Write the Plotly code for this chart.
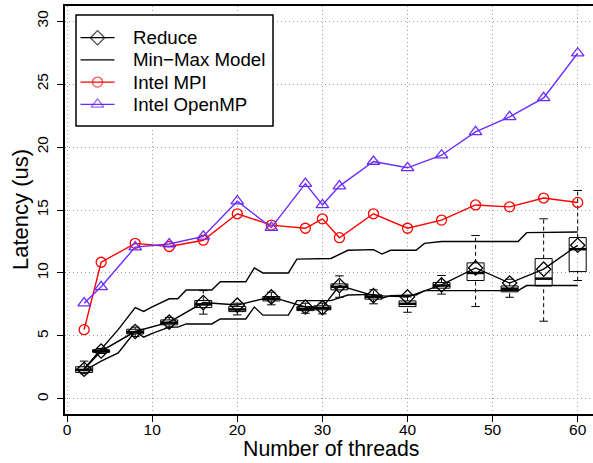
import plotly.graph_objects as go

# Thread counts at which the reductions were measured
threads = [2, 4, 8, 12, 16, 20, 24, 28, 30, 32, 36, 40, 44, 48, 52, 56, 60]

# Mean latency (us) of each implementation
reduce_mean = [2.35, 3.8, 5.35, 6.1, 7.65, 7.45, 8.1, 7.3, 7.25, 9.0, 8.2, 8.1, 9.05, 10.4, 9.2, 10.3, 12.2]
intel_mpi = [5.5, 10.85, 12.35, 12.1, 12.6, 14.7, 13.8, 13.55, 14.3, 12.8, 14.7, 13.55, 14.2, 15.4, 15.25, 15.95, 15.6]
intel_openmp = [7.6, 8.9, 12.05, 12.3, 12.9, 15.7, 13.6, 17.1, 15.4, 16.9, 18.85, 18.35, 19.35, 21.2, 22.4, 23.9, 27.45]

# Distribution of the Reduce measurements (boxplot statistics)
reduce_q1 = [2.1, 3.7, 5.16, 5.88, 7.25, 6.93, 7.78, 7.01, 7.07, 8.66, 7.92, 7.33, 8.79, 9.4, 8.5, 8.97, 10.11]
reduce_med = [2.3, 3.8, 5.3, 6.05, 7.5, 7.1, 7.95, 7.15, 7.2, 8.9, 8.1, 7.55, 9.0, 10.0, 8.75, 9.55, 11.89]
reduce_q3 = [2.55, 3.9, 5.53, 6.27, 7.81, 7.33, 8.13, 7.33, 7.39, 9.13, 8.26, 7.78, 9.24, 10.8, 8.97, 11.14, 12.81]
reduce_lo = [2.0, 3.6, 4.95, 5.7, 6.73, 6.67, 7.47, 6.8, 6.75, 8.07, 7.55, 6.88, 8.32, 7.33, 8.07, 6.17, 9.4]
reduce_hi = [3.0, 4.0, 5.7, 6.46, 8.6, 7.6, 8.47, 7.6, 7.6, 9.77, 8.66, 8.1, 9.8, 12.97, 9.5, 14.3, 16.55]

# Min-Max model bounds
model_max_x = [2, 4, 6, 8, 9, 10, 12, 13, 14, 17, 18, 21, 22, 23, 26, 27, 31, 33, 36, 37, 38, 41, 42, 44, 53, 54, 60]
model_max = [2.4, 3.95, 5.5, 7.25, 6.95, 7.3, 7.95, 7.95, 8.65, 8.65, 9.3, 9.3, 10.4, 10.0, 10.0, 11.1, 11.15,
             11.8, 11.85, 11.5, 11.8, 11.8, 12.35, 12.5, 12.5, 13.2, 13.25]
model_min_x = [2, 4, 6, 8, 9, 10, 12, 13, 14, 17, 18, 21, 22, 23, 26, 27, 31, 33, 36, 37, 38, 41, 42, 53, 54, 60]
model_min = [2.25, 3.0, 3.65, 5.35, 4.9, 5.2, 5.7, 5.7, 5.95, 5.95, 6.35, 6.35, 7.3, 6.65, 6.65, 7.8, 7.8,
             8.25, 8.3, 8.0, 8.2, 8.25, 8.6, 8.6, 9.0, 9.0]

x_ticks = [0, 10, 20, 30, 40, 50, 60]
y_ticks = [0, 5, 10, 15, 20, 25, 30]

# Legend entries
legend_labels = ["Reduce", "Min\u2212Max Model", "Intel MPI", "Intel OpenMP"]

BOX_W = 2.0
CAP_W = 1.0
FONT = "Liberation Sans, Arial, Helvetica, sans-serif"
PURPLE = "#6a2cff"
GRID = "#a0a0a0"
PLOT_W, PLOT_H = 528, 408
X_RANGE = [-0.25, 61.8]
Y_RANGE = [-1.2, 31.2]

styles = {
    "Reduce": dict(color="black", symbol="diamond-open", size=11),
    "Min\u2212Max Model": dict(color="black", symbol=None, size=0),
    "Intel MPI": dict(color="red", symbol="circle-open", size=10),
    "Intel OpenMP": dict(color=PURPLE, symbol="triangle-up-open", size=11),
}


def px_x(p):
    """Horizontal offset in px from the plot's left edge -> x axis value."""
    return X_RANGE[0] + p * (X_RANGE[1] - X_RANGE[0]) / PLOT_W


def px_y(p):
    """Vertical offset in px from the plot's top edge -> y axis value."""
    return Y_RANGE[1] - p * (Y_RANGE[1] - Y_RANGE[0]) / PLOT_H


fig = go.Figure()

# Model bounds
for xs, ys in ((model_max_x, model_max), (model_min_x, model_min)):
    fig.add_trace(go.Scatter(x=xs, y=ys, mode="lines", line=dict(color="black", width=1.4),
                             showlegend=False))

# Boxes
fig.add_trace(go.Box(x=threads, q1=reduce_q1, median=reduce_med, q3=reduce_q3,
                     lowerfence=reduce_q1, upperfence=reduce_q3, width=BOX_W, whiskerwidth=0,
                     line=dict(color="black", width=1), fillcolor="rgba(0,0,0,0)",
                     showlegend=False, boxpoints=False))

# Dashed whiskers
wx, wy = [], []
for t, a, b, c, d in zip(threads, reduce_lo, reduce_q1, reduce_q3, reduce_hi):
    wx += [t, t, None, t, t, None]
    wy += [a, b, None, c, d, None]
fig.add_trace(go.Scatter(x=wx, y=wy, mode="lines", line=dict(color="black", width=1, dash="4px,3px"),
                         showlegend=False, hoverinfo="skip"))

# Whisker caps and thick medians
cx, cy, mx, my = [], [], [], []
for t, lo, hi, m in zip(threads, reduce_lo, reduce_hi, reduce_med):
    cx += [t - CAP_W / 2, t + CAP_W / 2, None, t - CAP_W / 2, t + CAP_W / 2, None]
    cy += [lo, lo, None, hi, hi, None]
    mx += [t - BOX_W / 2, t + BOX_W / 2, None]
    my += [m, m, None]
fig.add_trace(go.Scatter(x=cx, y=cy, mode="lines", line=dict(color="black", width=1),
                         showlegend=False, hoverinfo="skip"))
fig.add_trace(go.Scatter(x=mx, y=my, mode="lines", line=dict(color="black", width=2.5),
                         showlegend=False, hoverinfo="skip"))


def series(xs, ys, name):
    st = styles[name]
    return go.Scatter(x=xs, y=ys, mode="lines+markers", name=name, showlegend=False,
                      line=dict(color=st["color"], width=1.4),
                      marker=dict(symbol=st["symbol"], size=st["size"], color=st["color"],
                                  line=dict(width=1.3)))


fig.add_trace(series(threads, reduce_mean, "Reduce"))
fig.add_trace(series(threads, intel_mpi, "Intel MPI"))
fig.add_trace(series(threads, intel_openmp, "Intel OpenMP"))

# Legend box in the top-left corner (pixel offsets from the plot's top-left corner)
LEG_X0, LEG_X1, LEG_Y0, LEG_Y1 = 11, 208, 9, 120
ROW_Y0, ROW_DY = 31.7, 22.2
SYM_X0, SYM_X1, TXT_X = 15.5, 49.5, 66

shapes = [dict(type="rect", xref="x", yref="y", x0=px_x(LEG_X0), x1=px_x(LEG_X1),
               y0=px_y(LEG_Y0), y1=px_y(LEG_Y1),
               line=dict(color="black", width=1.5), fillcolor="white", layer="between")]
annotations = []
for i, name in enumerate(legend_labels):
    st = styles[name]
    yy = px_y(ROW_Y0 + i * ROW_DY)
    fig.add_trace(go.Scatter(
        x=[px_x(SYM_X0), px_x((SYM_X0 + SYM_X1) / 2), px_x(SYM_X1)], y=[yy, yy, yy],
        mode="lines+markers" if st["symbol"] else "lines", showlegend=False, hoverinfo="skip",
        line=dict(color=st["color"], width=1.3),
        marker=dict(symbol=st["symbol"] or "circle", size=[0, st["size"], 0], color=st["color"],
                    line=dict(width=1.3))))
    annotations.append(dict(text=name, xref="x", yref="y", x=px_x(TXT_X), y=yy, xanchor="left",
                            yanchor="middle", showarrow=False,
                            font=dict(size=18.7, family=FONT, color="black")))

annotations += [
    dict(text="Number of threads", xref="paper", yref="paper",
         x=(331 - 65) / PLOT_W, y=-(463 - 414) / PLOT_H, xanchor="center", yanchor="bottom",
         showarrow=False, font=dict(size=21.3, family=FONT, color="black")),
    dict(text="Latency (us)", xref="paper", yref="paper",
         x=-(65 - 20) / PLOT_W, y=0.5, xanchor="center", yanchor="middle", textangle=-90,
         showarrow=False, font=dict(size=22, family=FONT, color="black")),
]

fig.update_layout(
    width=593, height=463,
    margin=dict(l=65, r=0, t=6, b=49),
    paper_bgcolor="white", plot_bgcolor="white",
    font=dict(family=FONT, color="black"),
    showlegend=False,
    xaxis=dict(range=X_RANGE, tickmode="array", tickvals=x_ticks,
               showline=True, linecolor="black", linewidth=2, mirror=True,
               ticks="outside", ticklen=6, tickcolor="black", tickwidth=1, ticklabelstandoff=-6,
               tickfont=dict(size=15.5, family=FONT, color="black"),
               showgrid=True, gridcolor=GRID, griddash="1px,3px", gridwidth=1, zeroline=False),
    yaxis=dict(range=Y_RANGE, tickmode="array", tickvals=y_ticks,
               showline=True, linecolor="black", linewidth=2, mirror=False,
               ticks="outside", ticklen=6, tickcolor="black", tickwidth=1, tickangle=-90,
               ticklabelstandoff=3,
               tickfont=dict(size=15.5, family=FONT, color="black"),
               showgrid=True, gridcolor=GRID, griddash="1px,3px", gridwidth=1, zeroline=False),
    shapes=shapes,
    annotations=annotations,
)

fig.write_html("out.html")
